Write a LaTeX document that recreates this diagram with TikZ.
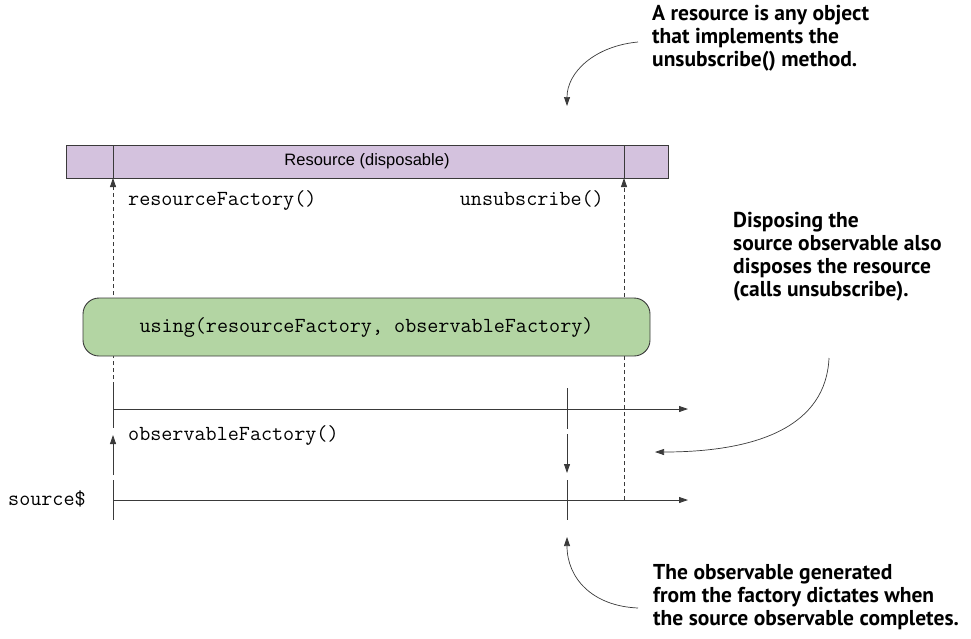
\documentclass[tikz,border=0pt]{standalone}
\usepackage{fontspec}
\newfontfamily\notefont{PT Sans}
\newfontfamily\boxfont{Liberation Sans}
\usetikzlibrary{arrows.meta, positioning, calc}
\definecolor{resfill}{HTML}{D4C2DE}
\definecolor{usingfill}{HTML}{B3D5A3}
\definecolor{edge}{HTML}{3A3A3A}

\begin{document}
\begin{tikzpicture}[
  x=1pt, y=-1pt,
  resbox/.style={rectangle, draw=edge, fill=resfill, line width=0.9pt, minimum width=602pt, minimum height=33pt, inner sep=0pt, font=\boxfont\fontsize{16.5}{19}\selectfont},
  usingbox/.style={rectangle, rounded corners=16pt, draw=edge, fill=usingfill, line width=0.9pt, minimum width=567pt, minimum height=58pt, inner sep=0pt, font=\ttfamily\fontsize{21.5}{24}\selectfont},
  code/.style={font=\ttfamily\fontsize{21.5}{24}\selectfont, inner sep=0pt, anchor=base west},
  note/.style={font=\notefont\bfseries\fontsize{21.5}{23}\selectfont, align=left, inner sep=0pt, anchor=north west},
  arrow/.style={-{Triangle[length=9pt, width=6pt]}, line width=0.8pt, draw=edge},
  dasharrow/.style={arrow, dash pattern=on 4pt off 3pt},
  tick/.style={line width=0.8pt, draw=edge},
  callout/.style={-{Triangle[length=9pt, width=6pt]}, line width=0.7pt, draw=edge}
]
\useasboundingbox (0,0) rectangle (971,638);

% resource
\node[resbox] (res) at (367,161.5) {Resource (disposable)};
\draw[tick] (113,145) -- (113,178);
\draw[tick] (624,145) -- (624,178);

\coordinate (resIn) at (113,178);
\coordinate (resOut) at (624,178);
\coordinate (useLeft) at (113,386);
\coordinate (srcEnd) at (624,500);

% dashed lifelines
\draw[dasharrow] (useLeft) -- (resIn);
\draw[dasharrow] (srcEnd) -- (resOut);

\node[code] (rf) at (128,205) {resourceFactory()};
\node[code, anchor=base east] (unsub) at (604,205) {unsubscribe()};

% using operator
\node[usingbox] (use) at (366.5,327) {using(resourceFactory, observableFactory)};

% observable timeline
\coordinate (obsStart) at (113,409);
\coordinate (obsEnd) at (688,409);
\draw[tick] (useLeft) -- (113,428);
\draw[arrow] (obsStart) -- (obsEnd);
\draw[tick] (567,388) -- (567,429);

\node[code] (of) at (128,440) {observableFactory()};
\draw[arrow] (113,475) -- (113,435);
\draw[arrow] (567,434) -- (567,473);

% source timeline
\node[code] (src) at (8,505) {source\$};
\coordinate (srcStart) at (113,500);
\coordinate (srcArrow) at (688,500);
\draw[tick] (113,480) -- (113,520);
\draw[tick] (567,480) -- (567,520);
\draw[arrow] (srcStart) -- (srcArrow);

% notes
\node[note] (n1) at (652,5) {A resource is any object\\that implements the\\unsubscribe() method.};
\node[note] (n2) at (733,212) {Disposing the\\source observable also\\disposes the resource\\(calls unsubscribe).};
\node[note] (n3) at (653,564) {The observable generated\\from the factory dictates when\\the source observable completes.};

\coordinate (c1s) at (638,42);
\coordinate (c1e) at (567,106);
\coordinate (c2s) at (829,358);
\coordinate (c2e) at (655,452);
\coordinate (c3s) at (638,608);
\coordinate (c3e) at (567,537);
\draw[callout] (c1s) .. controls (595,46) and (567,72) .. (c1e);
\draw[callout] (c2s) .. controls (826,425) and (760,452) .. (c2e);
\draw[callout] (c3s) .. controls (592,606) and (567,578) .. (c3e);

\end{tikzpicture}
\end{document}
